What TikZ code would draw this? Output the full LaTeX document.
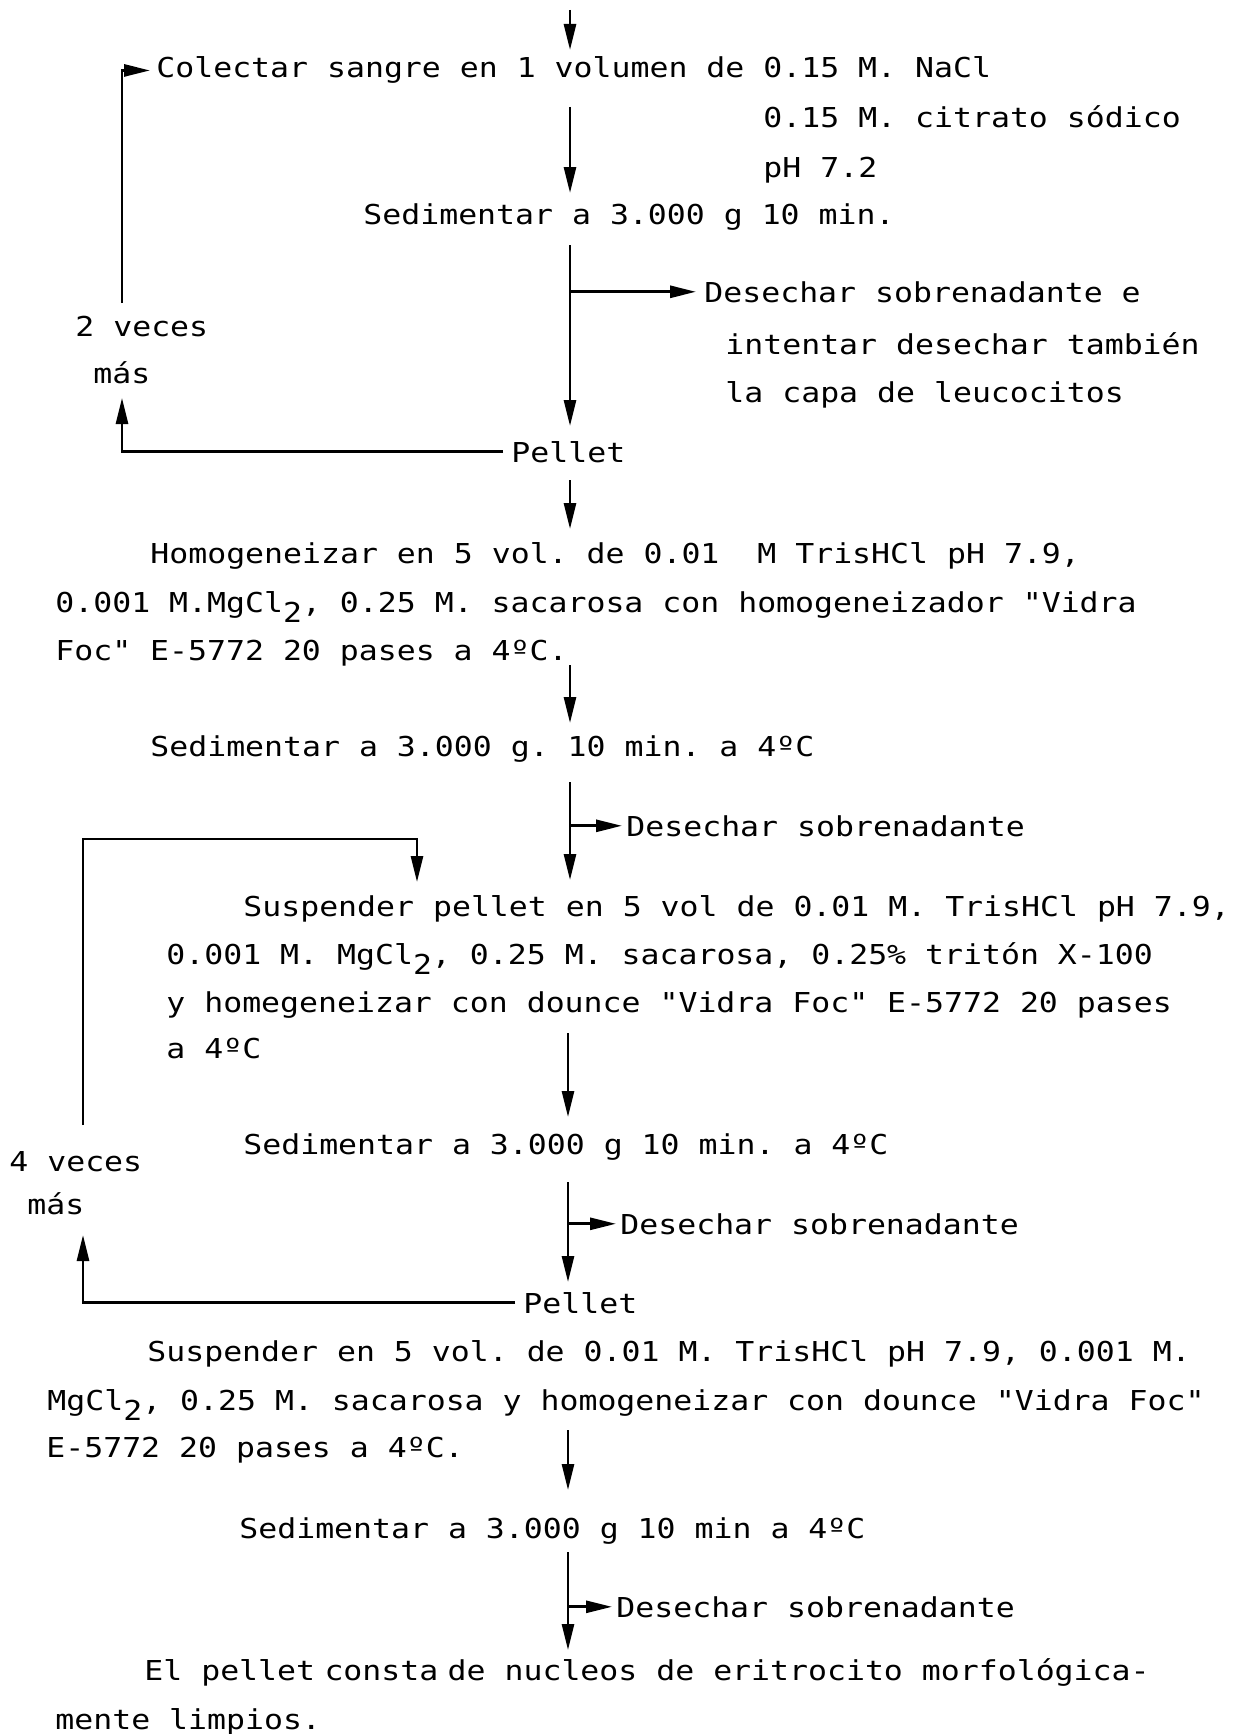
\documentclass[tikz,border=0pt]{standalone}
\usepackage{fontspec}
\setmonofont{DejaVu Sans Mono}[FakeStretch=1.15]
\usetikzlibrary{arrows.meta}
\newcommand\mysubtwo{\raisebox{-0.38em}{2}}
\newcommand\halfsp{\kern4.7pt}
\begin{document}
\begin{tikzpicture}[x=0.5pt,y=-0.5pt,
  txt/.style={anchor=base west, inner sep=0pt, font=\ttfamily\fontsize{13.7pt}{16pt}\selectfont},
  flow/.style={line width=1.4pt, -{Triangle[length=13pt,width=6pt]}},
  plain/.style={line width=1.4pt}]
\fill[white] (0,0) rectangle (1247,1734);
\useasboundingbox (0,0) rectangle (1247,1734);

% axes
\coordinate (ax) at (570,0);
\coordinate (bx) at (568,0);

% texts
\node[txt] (colectar) at (156,78) {Colectar sangre en 1 volumen de 0.15 M. NaCl};
\node[txt] (citrato) at (763,127) {0.15 M. citrato sódico};
\node[txt] (ph) at (763,177) {pH 7.2};
\node[txt] (sed1) at (363,224) {Sedimentar a 3.000 g 10 min.};
\node[txt] (des1) at (704,302) {Desechar sobrenadante e};
\node[txt] (des1b) at (725,354) {intentar desechar también};
\node[txt] (des1c) at (725,402) {la capa de leucocitos};
\node[txt] (veces1) at (75,336) {2 veces};
\node[txt] (mas1) at (93,383) {más};
\node[txt] (pellet1) at (511,462) {Pellet};
\node[txt] (hom1) at (150,563) {Homogeneizar en 5 vol. de 0.01 \ M TrisHCl pH 7.9,};
\node[txt] (hom2) at (55,612) {0.001 M.MgCl\mysubtwo, 0.25 M. sacarosa con homogeneizador "Vidra};
\node[txt] (hom3) at (55,660) {Foc" E-5772 20 pases a 4ºC.};
\node[txt] (sed2) at (150,756) {Sedimentar a 3.000 g. 10 min. a 4ºC};
\node[txt] (des2) at (626,836) {Desechar sobrenadante};
\node[txt] (sus1) at (243,916) {Suspender pellet en 5 vol de 0.01 M. TrisHCl pH 7.9,};
\node[txt] (sus2) at (166,964) {0.001 M. MgCl\mysubtwo, 0.25 M. sacarosa, 0.25\% tritón X-100};
\node[txt] (sus3) at (166,1012) {y homegeneizar con dounce "Vidra Foc" E-5772 20 pases};
\node[txt] (sus4) at (166,1058) {a 4ºC};
\node[txt] (sed3) at (243,1154) {Sedimentar a 3.000 g 10 min. a 4ºC};
\node[txt] (veces2) at (9,1171) {4 veces};
\node[txt] (mas2) at (27,1214) {más};
\node[txt] (des3) at (620,1234) {Desechar sobrenadante};
\node[txt] (pellet2) at (523,1313) {Pellet};
\node[txt] (susb1) at (147,1361) {Suspender en 5 vol. de 0.01 M. TrisHCl pH 7.9, 0.001 M.};
\node[txt] (susb2) at (47,1410) {MgCl\mysubtwo, 0.25 M. sacarosa y homogeneizar con dounce "Vidra Foc"};
\node[txt] (susb3) at (46,1457) {E-5772 20 pases a 4ºC.};
\node[txt] (sed4) at (239,1538) {Sedimentar a 3.000 g 10 min a 4ºC};
\node[txt] (des4) at (616,1617) {Desechar sobrenadante};
\node[txt] (fin1) at (144,1680) {El pellet\halfsp consta\halfsp de nucleos de eritrocito morfológica-};
\node[txt] (fin2) at (55,1729) {mente limpios.};

% coordinates for free connector ends
\coordinate (a0s) at (570,10);  \coordinate (a0e) at (570,50);
\coordinate (a1s) at (570,107); \coordinate (a1e) at (570,193);
\coordinate (a2s) at (570,245); \coordinate (a2e) at (570,426);
\coordinate (a3s) at (570,480); \coordinate (a3e) at (570,529);
\coordinate (a4s) at (570,665); \coordinate (a4e) at (570,723);
\coordinate (a5s) at (570,782); \coordinate (a5e) at (570,880);
\coordinate (a6s) at (568,1033); \coordinate (a6e) at (568,1117);
\coordinate (a7s) at (568,1182); \coordinate (a7e) at (568,1282);
\coordinate (a8s) at (568,1430); \coordinate (a8e) at (568,1490);
\coordinate (a9s) at (568,1552); \coordinate (a9e) at (568,1650);

\coordinate (l1bot) at (122,303); \coordinate (l1up) at (122,398);
\coordinate (l2bot) at (83,1125); \coordinate (l2tl) at (83,839);
\coordinate (l2tr) at (417,839); \coordinate (l2tip) at (417,882);
\coordinate (l2up) at (83,1235);

% main flow
\draw[flow] (a0s) -- (a0e);
\draw[flow] (a1s) -- (a1e);
\draw[flow] (a2s) -- (a2e);
\draw[flow] (a3s) -- (a3e);
\draw[flow] (a4s) -- (a4e);
\draw[flow] (a5s) -- (a5e);
\draw[flow] (a6s) -- (a6e);
\draw[flow] (a7s) -- (a7e);
\draw[flow] (a8s) -- (a8e);
\draw[flow] (a9s) -- (a9e);

% side branches (discard)
\draw[flow, shorten >=4pt] (ax |- des1.west) -- (des1.west);
\draw[flow, shorten >=2pt] (ax |- des2.west) -- (des2.west);
\draw[flow, shorten >=2pt] (bx |- des3.west) -- (des3.west);
\draw[flow, shorten >=2pt] (bx |- des4.west) -- (des4.west);

% loop 1
\draw[flow, shorten >=3pt] (l1bot) |- (colectar.west);
\draw[flow] ([xshift=-4pt]pellet1.west) -| (l1up);

% loop 2
\draw[flow] (l2bot) -- (l2tl) -- (l2tr) -- (l2tip);
\draw[flow] ([xshift=-4pt]pellet2.west) -| (l2up);
\end{tikzpicture}
\end{document}
